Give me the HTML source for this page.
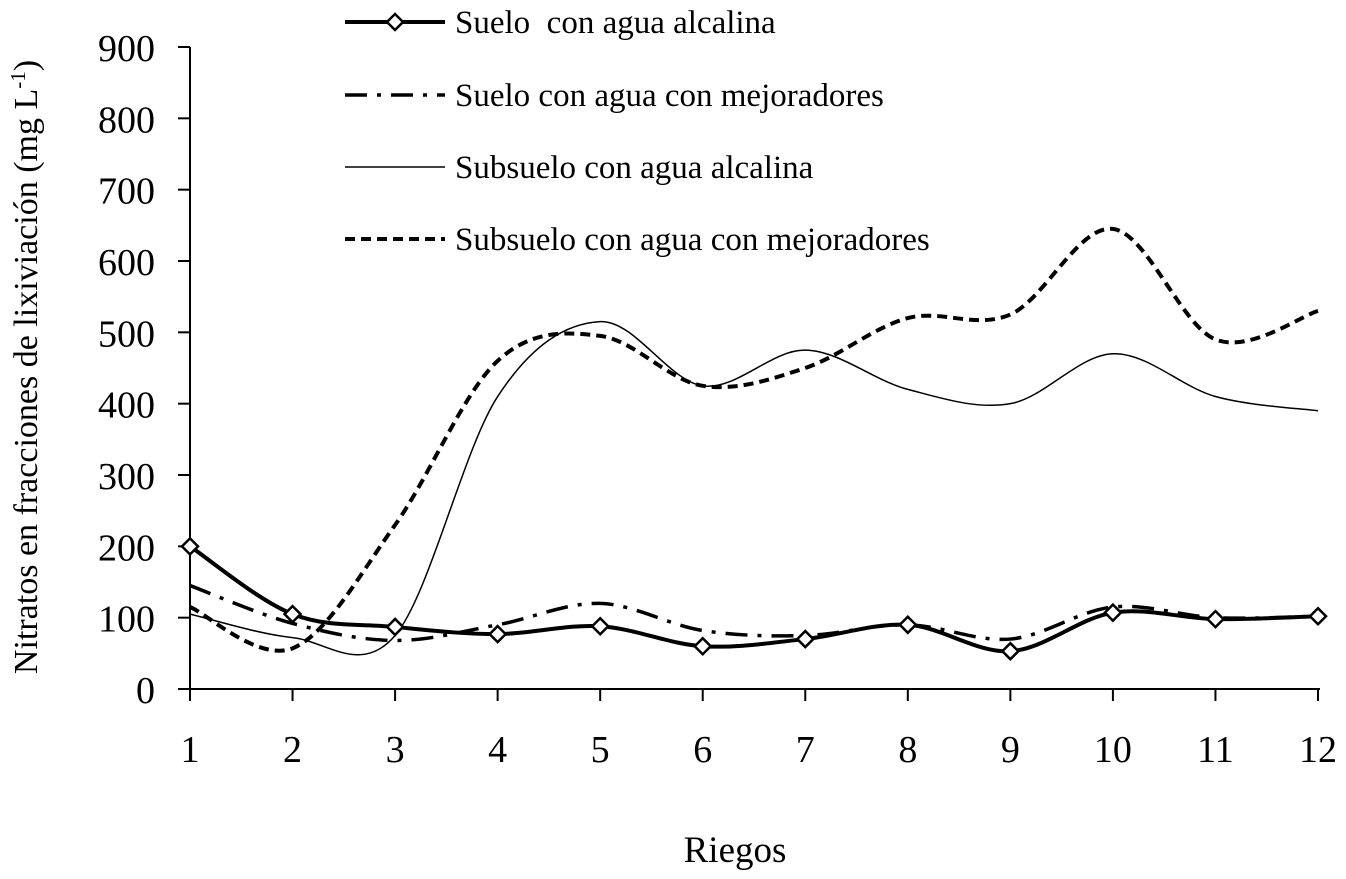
<!DOCTYPE html>
<html><head><meta charset="utf-8"><style>
body{margin:0;background:#fff}
svg text{font-family:"Liberation Serif",serif;fill:#000;white-space:pre}
</style></head><body>
<svg width="1346" height="874" viewBox="0 0 1346 874">
<g id="axes"></g><g id="series"></g><g id="legend"></g>
<text x="735" y="862" font-size="37" text-anchor="middle">Riegos</text>
<text transform="translate(37,367) rotate(-90)" font-size="34" text-anchor="middle">Nitratos en fracciones de lixiviación (mg L<tspan dy="-12" font-size="21">-1</tspan><tspan dy="12">)</tspan></text>
</svg>
<script>
const categories=[1,2,3,4,5,6,7,8,9,10,11,12];
const yTicks=[0,100,200,300,400,500,600,700,800,900];
const sueloAlcalina=[200,105,87,77,88,60,70,90,53,107,98,102];
const sueloMejoradores=[145,92,68,90,120,82,75,90,70,115,100,102];
const subsueloAlcalina=[105,72,75,410,515,425,475,420,400,470,410,390];
const subsueloMejoradores=[115,57,230,460,495,425,450,520,525,645,490,530];
const NS='http://www.w3.org/2000/svg';
const X=i=>190+(i)*(1318-190)/11;
const Y=v=>689-v*(689-47)/900;
function mk(t,a,p){const e=document.createElementNS(NS,t);for(const k in a)e.setAttribute(k,a[k]);p.appendChild(e);return e;}
const ax=document.getElementById('axes');
let l=mk('line',{x1:190,y1:47,x2:190,y2:689,stroke:'#000','stroke-width':2},ax);


l=mk('line',{x1:178,y1:689,x2:1320,y2:689,stroke:'#000','stroke-width':2},ax);


yTicks.forEach(v=>{
 mk('line',{x1:178,y1:Y(v),x2:190,y2:Y(v),stroke:'#000','stroke-width':2},ax);
 const t=mk('text',{x:155,y:Y(v)+14,'font-size':38,'text-anchor':'end'},ax);t.textContent=v;
 
 
});
categories.forEach((c,i)=>{
 mk('line',{x1:X(i),y1:689,x2:X(i),y2:701,stroke:'#000','stroke-width':2},ax);
 const t=mk('text',{x:X(i),y:762,'font-size':38,'text-anchor':'middle'},ax);t.textContent=c;
 
 
});
function pathD(vals){
 const p=vals.map((v,i)=>[X(i),Y(v)]);
 let d='M'+p[0][0]+','+p[0][1];
 for(let i=0;i<p.length-1;i++){
  const p0=p[i-1]||p[i],p1=p[i],p2=p[i+1],p3=p[i+2]||p[i+1];
  const c1=[p1[0]+(p2[0]-p0[0])/6,p1[1]+(p2[1]-p0[1])/6];
  const c2=[p2[0]-(p3[0]-p1[0])/6,p2[1]-(p3[1]-p1[1])/6];
  d+=`C${c1[0]},${c1[1]} ${c2[0]},${c2[1]} ${p2[0]},${p2[1]}`;
 }
 return d;
}
const sg=document.getElementById('series');
const styles=[
 {vals:subsueloAlcalina,w:1.5,dash:'',name:'subsuelo-alcalina-line'},
 {vals:subsueloMejoradores,w:4,dash:'10,6',name:'subsuelo-mejoradores-line'},
 {vals:sueloMejoradores,w:3.5,dash:'22,10,4,10',name:'suelo-mejoradores-line'},
 {vals:sueloAlcalina,w:4,dash:'',name:'suelo-alcalina-line'}];
styles.forEach(s=>{
 const p=mk('path',{d:pathD(s.vals),fill:'none',stroke:'#000','stroke-width':s.w,'stroke-dasharray':s.dash},sg);
 
 
});
sueloAlcalina.forEach((v,i)=>{
 const x=X(i),y=Y(v);
 const m=mk('polygon',{points:`${x},${y-8} ${x+8},${y} ${x},${y+8} ${x-8},${y}`,fill:'#fff',stroke:'#000','stroke-width':2.5},sg);
 
 
});
const lg=document.getElementById('legend');
const items=[['Suelo  con agua alcalina',4,'',true,22],['Suelo con agua con mejoradores',3.5,'22,10,4,10',false,95],['Subsuelo con agua alcalina',1.5,'',false,167],['Subsuelo con agua con mejoradores',4,'10,6',false,239]];
items.forEach(it=>{
 const g=mk('g',{},lg);
 
 
 mk('line',{x1:345,y1:it[4],x2:445,y2:it[4],stroke:'#000','stroke-width':it[1],'stroke-dasharray':it[2]},g);
 if(it[3])mk('polygon',{points:`395,${it[4]-8} 403,${it[4]} 395,${it[4]+8} 387,${it[4]}`,fill:'#fff',stroke:'#000','stroke-width':2.5},g);
 const t=mk('text',{x:455,y:it[4]+11,'font-size':33},g);t.textContent=it[0];
});
</script>
</body></html>
